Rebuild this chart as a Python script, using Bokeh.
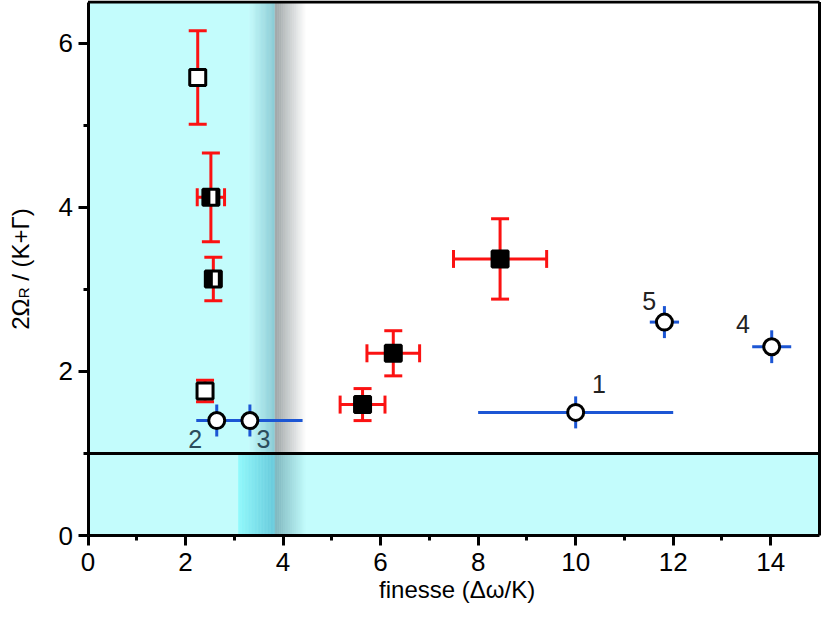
import numpy as np
from bokeh.plotting import figure
from bokeh.models import FixedTicker, Range1d, ColumnDataSource
from bokeh.embed import file_html
from bokeh.resources import INLINE
from bokeh.core.properties import value

# ---------------- data ----------------
# open squares (red error bars)
open_sq_x = [2.25, 2.40]
open_sq_y = [5.58, 1.76]
open_sq_yerr = [0.57, 0.13]

# half-filled squares (red error bars)
half_sq_x = [2.52, 2.57]
half_sq_y = [4.12, 3.125]
half_sq_xerr = [0.28, 0.0]
half_sq_yerr = [0.54, 0.265]

# filled squares (red error bars)
fill_sq_x = [5.63, 6.26, 8.45]
fill_sq_y = [1.595, 2.22, 3.37]
fill_sq_xerr = [0.46, 0.54, 0.955]
fill_sq_yerr = [0.195, 0.275, 0.49]

# open circles (blue error bars) with numeric labels
circ_label = ["1", "2", "3", "4", "5"]
circ_x = [10.0, 2.64, 3.32, 14.02, 11.82]
circ_y = [1.50, 1.40, 1.40, 2.30, 2.60]
circ_xerr = [2.0, 0.42, 1.08, 0.40, 0.30]
circ_yerr = [0.195, 0.195, 0.195, 0.20, 0.195]
lab_x = [10.48, 2.20, 3.60, 13.43, 11.51]
lab_y = [1.84, 1.18, 1.18, 2.58, 2.86]
lab_color = ["#222222", "#2c4d5c", "#2c4d5c", "#222222", "#222222"]

x_major = [0, 2, 4, 6, 8, 10, 12, 14]
x_minor = [1, 3, 5, 7, 9, 11, 13]
y_major = [0, 2, 4, 6]
y_minor = [1, 3, 5]

x_title = "finesse (Δω/K)"
y_title_parts = ["2Ω", "R", "/ (K+Γ)"]

# axis extents and shading regions (data units)
X_MAX, Y_MAX, Y_SPLIT = 15.0, 6.5, 1.0
TOP_FADE_START, EDGE, SHADOW_END = 3.29, 3.83, 4.47
BAND_START = 3.08

RED = "#fb1212"
BLUE = "#1c56d4"
CYAN = "#c3fcfc"
FONT = "Liberation Sans"

# ---------------- layout (pixels) ----------------
W, H = 821, 608
AX_LEFT_PX, AX_RIGHT_PX = 87.5, 819.0      # canvas x of x=0 and x=X_MAX
AX_TOP_PX, AX_BOTTOM_PX = 1.5, 535.0       # canvas y of y=Y_MAX and y=0
sx = (AX_RIGHT_PX - AX_LEFT_PX) / X_MAX
sy = (AX_BOTTOM_PX - AX_TOP_PX) / Y_MAX
x_lo = -AX_LEFT_PX / sx
x_hi = X_MAX + (W - AX_RIGHT_PX) / sx
y_lo = -(H - AX_BOTTOM_PX) / sy
y_hi = Y_MAX + AX_TOP_PX / sy


def px_to_data(px_x, px_y):
    return x_lo + px_x / sx, (AX_BOTTOM_PX - px_y) / sy


p = figure(width=W, height=H, x_range=Range1d(x_lo, x_hi), y_range=Range1d(y_lo, y_hi),
           output_backend="svg", toolbar_location=None,
           min_border_left=0, min_border_right=0, min_border_top=0, min_border_bottom=0)
p.grid.visible = False
p.background_fill_color = "white"
p.border_fill_color = "white"
p.outline_line_color = None


def hex_rgb(h):
    h = h.lstrip("#")
    return np.array([int(h[i:i + 2], 16) for i in (0, 2, 4)], dtype=float)


def gradient(x0, x1, y0, y1, c0, c1, n=48):
    xs = np.linspace(x0, x1, n + 1)
    step = (x1 - x0) / n
    t = (np.arange(n) + 0.5) / n
    a, b = hex_rgb(c0), hex_rgb(c1)
    cols = ["#%02x%02x%02x" % tuple(int(round(v)) for v in (a + (b - a) * ti)) for ti in t]
    rights = xs[1:] + step * 0.6
    rights[-1] = xs[-1]
    p.quad(left=xs[:-1], right=rights, bottom=y0, top=y1, fill_color=cols, line_color=None)


# top region shading
p.quad(left=[0], right=[TOP_FADE_START + 0.01], bottom=[Y_SPLIT], top=[Y_MAX], fill_color=CYAN, line_color=None)
gradient(TOP_FADE_START, EDGE, Y_SPLIT, Y_MAX, CYAN, "#84c8d2")
gradient(EDGE, SHADOW_END, Y_SPLIT, Y_MAX, "#9aa2a4", "#ffffff")
# bottom region shading
p.quad(left=[0], right=[X_MAX], bottom=[0], top=[Y_SPLIT], fill_color=CYAN, line_color=None)
gradient(BAND_START, EDGE, 0, Y_SPLIT, "#92f9fc", "#68cadb")
gradient(EDGE, SHADOW_END, 0, Y_SPLIT, "#7cb4bc", CYAN)

# frame lines: divider at y=1, top and right borders
p.segment(x0=[0, 0, X_MAX], y0=[Y_SPLIT, Y_MAX, 0], x1=[X_MAX, X_MAX, X_MAX], y1=[Y_SPLIT, Y_MAX, Y_MAX],
          line_color="black", line_width=3)


# ---------- red error bars ----------
def red_bars(xs, ys, xerr, yerr):
    yx = [x for x, e in zip(xs, yerr) if e > 0]
    yy = [y for y, e in zip(ys, yerr) if e > 0]
    ye = [e for e in yerr if e > 0]
    p.segment(x0=yx, y0=[y - e for y, e in zip(yy, ye)], x1=yx, y1=[y + e for y, e in zip(yy, ye)],
              line_color=RED, line_width=3)
    p.scatter(x=yx + yx, y=[y - e for y, e in zip(yy, ye)] + [y + e for y, e in zip(yy, ye)],
              marker="dash", size=18, line_color=RED, line_width=3)
    xx = [x for x, e in zip(xs, xerr) if e > 0]
    xy = [y for y, e in zip(ys, xerr) if e > 0]
    xe = [e for e in xerr if e > 0]
    if xx:
        p.segment(x0=[x - e for x, e in zip(xx, xe)], y0=xy, x1=[x + e for x, e in zip(xx, xe)], y1=xy,
                  line_color=RED, line_width=3)
        p.scatter(x=[x - e for x, e in zip(xx, xe)] + [x + e for x, e in zip(xx, xe)], y=xy + xy,
                  marker="dash", angle=np.pi / 2, size=18, line_color=RED, line_width=3)


red_bars(open_sq_x, open_sq_y, [0] * len(open_sq_x), open_sq_yerr)
red_bars(half_sq_x, half_sq_y, half_sq_xerr, half_sq_yerr)
red_bars(fill_sq_x, fill_sq_y, fill_sq_xerr, fill_sq_yerr)

# ---------- blue error bars ----------
p.segment(x0=[x - e for x, e in zip(circ_x, circ_xerr)], y0=circ_y,
          x1=[x + e for x, e in zip(circ_x, circ_xerr)], y1=circ_y, line_color=BLUE, line_width=3)
p.segment(x0=circ_x, y0=[y - e for y, e in zip(circ_y, circ_yerr)],
          x1=circ_x, y1=[y + e for y, e in zip(circ_y, circ_yerr)], line_color=BLUE, line_width=3)

# ---------- markers ----------
p.scatter(x=open_sq_x, y=open_sq_y, marker="square", size=16, fill_color="white",
          line_color="black", line_width=3)
p.scatter(x=half_sq_x, y=half_sq_y, marker="square", size=16, fill_color="black",
          line_color="black", line_width=3)
p.rect(x=[x + 2.0 / sx for x in half_sq_x], y=half_sq_y, width=5, height=13,
       width_units="screen", height_units="screen", fill_color="white", line_color=None)
p.scatter(x=fill_sq_x, y=fill_sq_y, marker="square", size=16, fill_color="black",
          line_color="black", line_width=3)
p.scatter(x=circ_x, y=circ_y, marker="circle", size=16, fill_color="white",
          line_color="black", line_width=3)

src = ColumnDataSource(dict(x=lab_x, y=lab_y, t=circ_label, c=lab_color))
p.text(x="x", y="y", text="t", source=src, text_color="c", text_align="center",
       text_baseline="middle", text_font=value(FONT), text_font_size="25px")

# ---------- axes (drawn at x=0 / y=0 inside the canvas) ----------
p.xaxis.ticker = FixedTicker(ticks=x_major, minor_ticks=x_minor)
p.yaxis.ticker = FixedTicker(ticks=y_major, minor_ticks=y_minor)
p.xaxis.bounds = (0, X_MAX)
p.yaxis.bounds = (0, Y_MAX)
p.xaxis.fixed_location = 0
p.yaxis.fixed_location = 0
for ax in (p.xaxis, p.yaxis):
    ax.axis_line_width = 3
    ax.axis_line_color = "black"
    ax.major_tick_line_width = 3
    ax.minor_tick_line_width = 3
    ax.major_tick_out = 10
    ax.major_tick_in = 0
    ax.minor_tick_out = 5
    ax.minor_tick_in = 0
    ax.major_label_text_font = FONT
    ax.major_label_text_font_size = "26px"
    ax.major_label_text_color = "black"
p.xaxis.major_label_standoff = 7
p.yaxis.major_label_standoff = 5

# x title
tx, ty = px_to_data(0, 589.0)
p.text(x=[X_MAX / 2 + 0.07], y=[ty], text=[x_title], text_align="center", text_baseline="alphabetic",
       text_font=value(FONT), text_font_size="24px", text_color="black")

# ---------- y title (rotated, built from pieces for the subscript) ----------
base_px = 20.0
mid_px = (AX_TOP_PX + AX_BOTTOM_PX) / 2.0
start_px = mid_px + 61.0
pieces = [(y_title_parts[0], 0.0, 0.0, "24px"),
          (y_title_parts[1], 2.5, 31.5, "15px"),
          (y_title_parts[2], 0.0, 49.0, "24px")]
for txt, dx, dy, fs in pieces:
    px_x, px_y = px_to_data(base_px + dx, start_px - dy)
    p.text(x=[px_x], y=[px_y], text=[txt], angle=np.pi / 2, text_align="left",
           text_baseline="alphabetic", text_font=value(FONT), text_font_size=fs,
           text_color="black")

open("out.html", "w").write(file_html(p, INLINE))
